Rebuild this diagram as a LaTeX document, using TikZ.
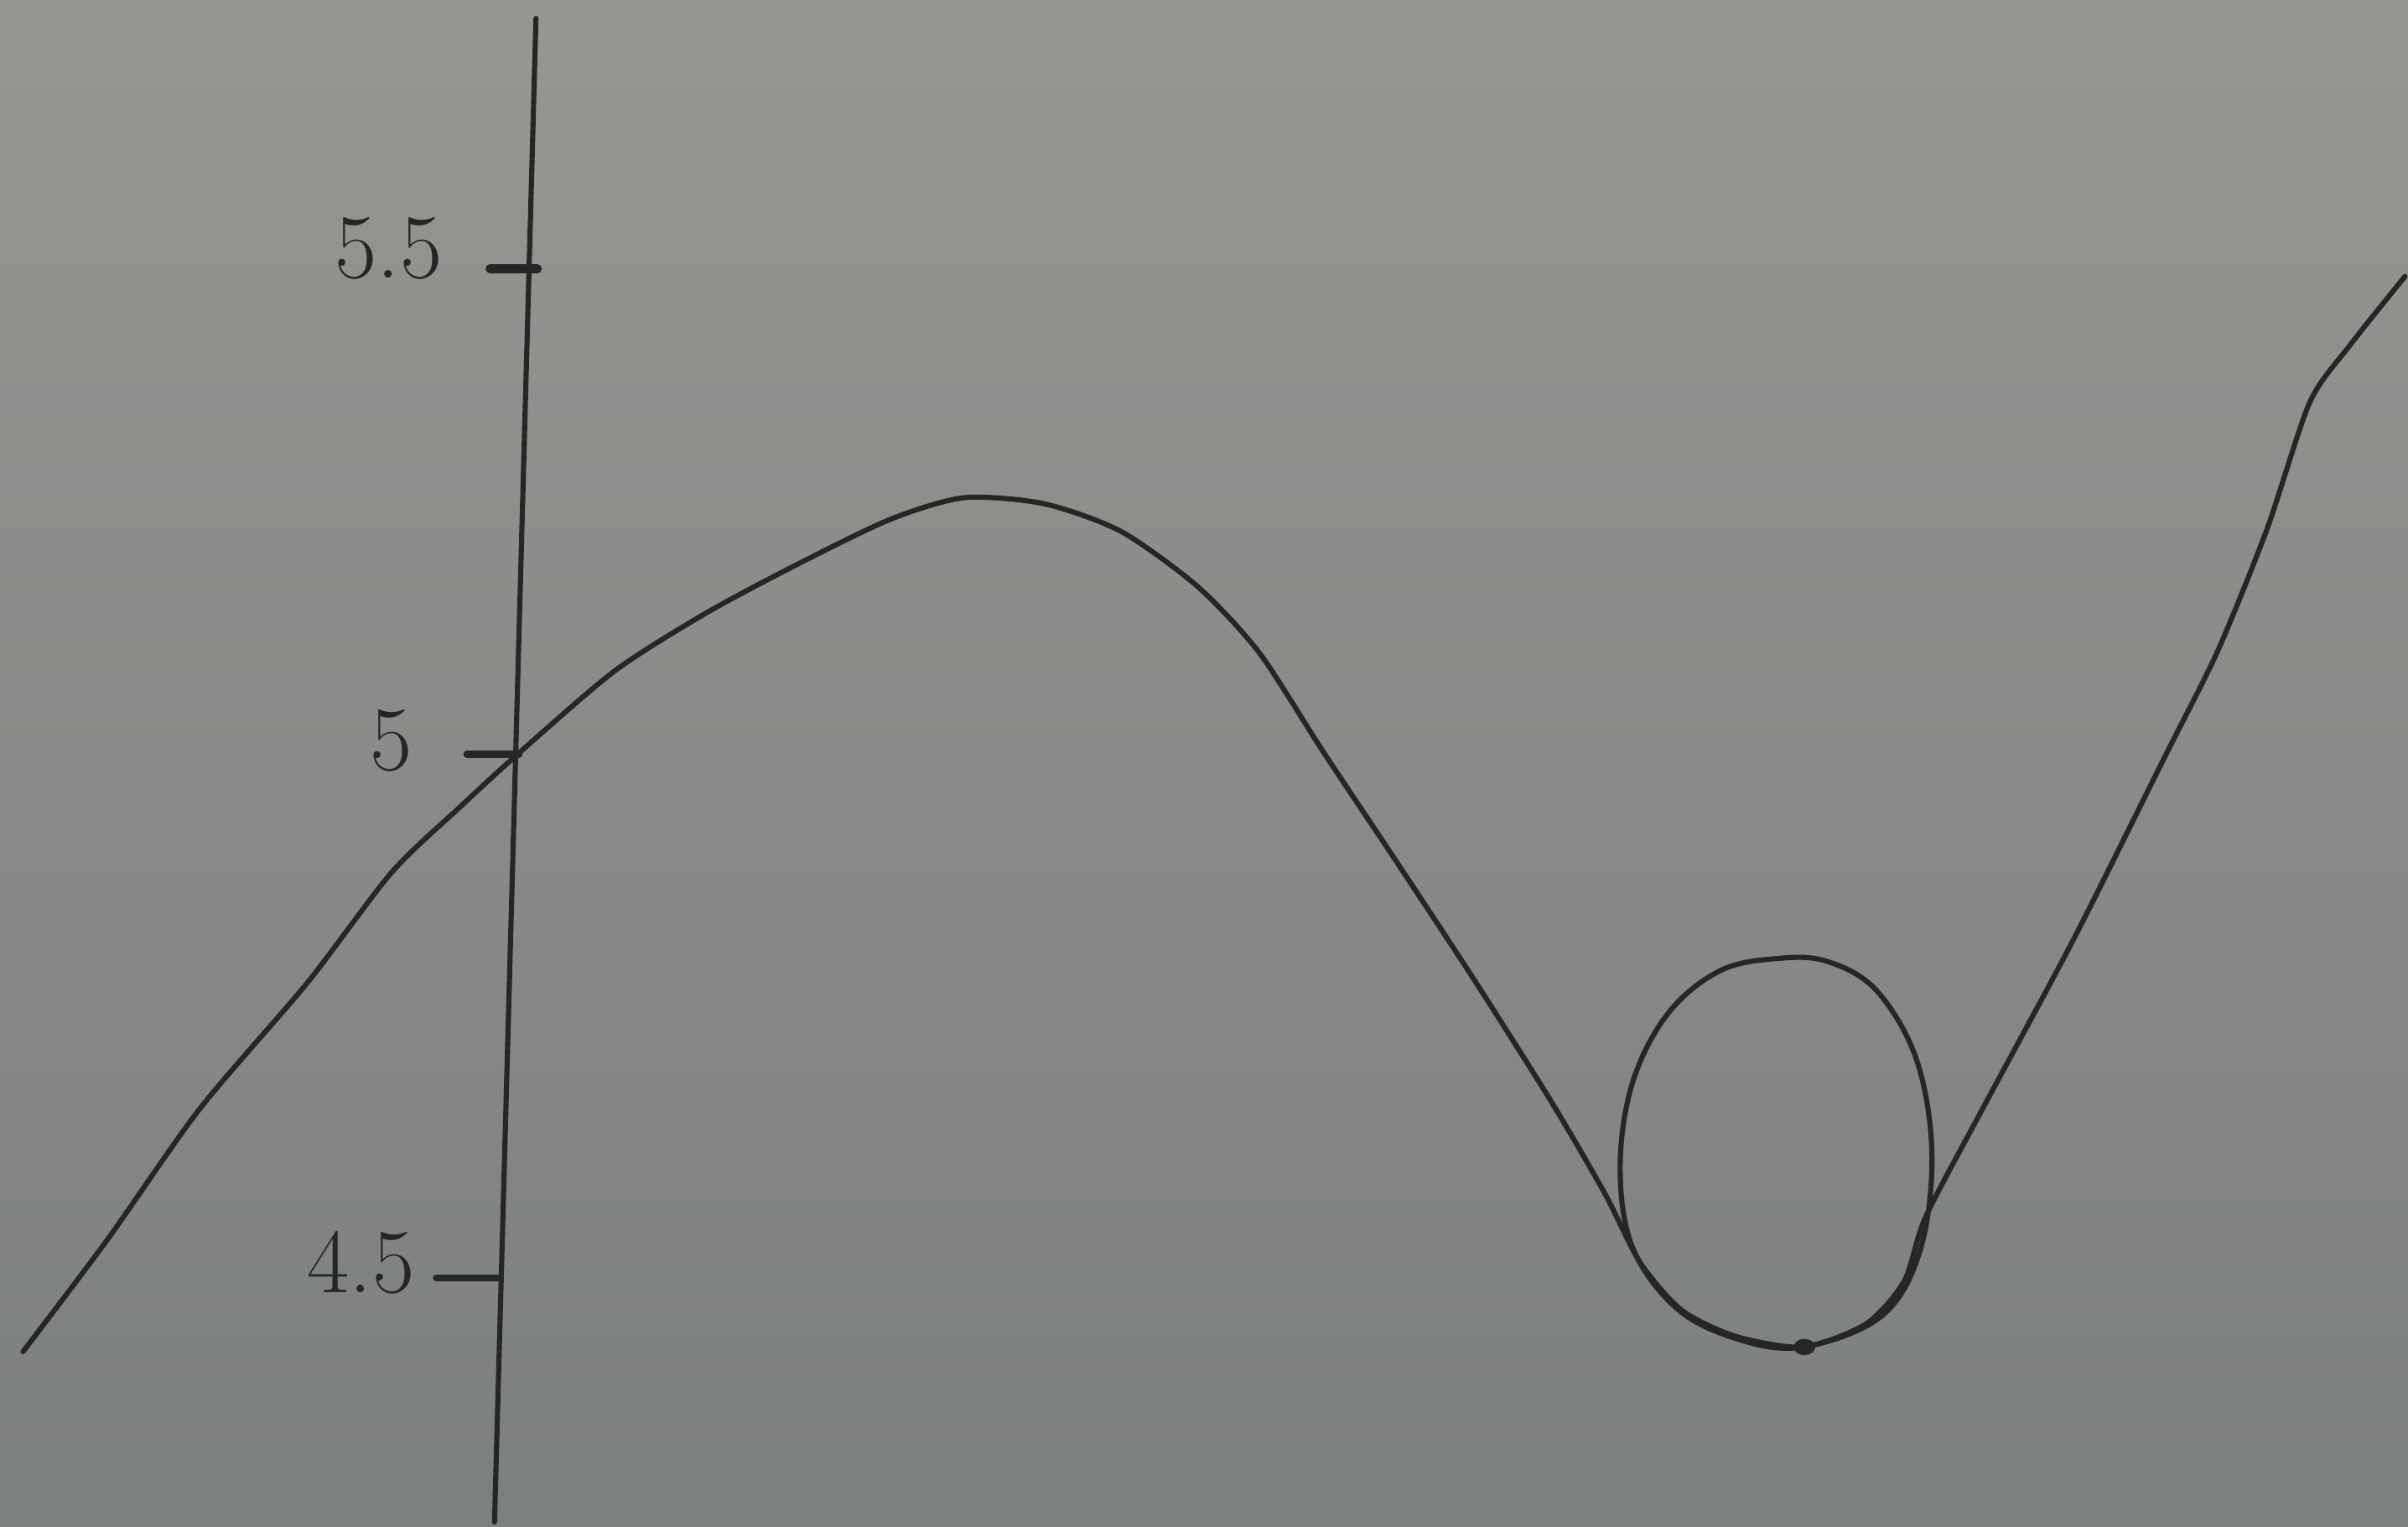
\documentclass[tikz,border=0pt]{standalone}
\usetikzlibrary{shapes.geometric}
\begin{document}
\begin{tikzpicture}[x=0.1mm,y=-0.1mm,
  ink/.style={draw=inkc,line width=0.95pt,line cap=round,line join=round},
  ticklab/.style={text=inkc,font=\fontsize{17}{17}\selectfont,inner sep=0pt}]
\definecolor{inkc}{RGB}{38,38,38}
\definecolor{papertop}{RGB}{150,150,146}
\definecolor{paperbot}{RGB}{124,128,126}
% paper
\shade[top color=papertop,bottom color=paperbot] (0,0) rectangle (1568,994);
\useasboundingbox (0,0) rectangle (1568,994);
% axis
\coordinate (axtop) at (349,12);
\coordinate (axbot) at (322,991);
\draw[ink] (axtop) -- (axbot);
% ticks
\coordinate (t55a) at (319,175); \coordinate (t55b) at (350,175);
\coordinate (t5a) at (304,491);  \coordinate (t5b) at (338,491);
\coordinate (t45a) at (284,832); \coordinate (t45b) at (326,832);
\draw[ink,line width=1.6pt] (t55a) -- (t55b);
\draw[ink,line width=1.3pt] (t5a) -- (t5b);
\draw[ink,line width=1.2pt] (t45a) -- (t45b);
% labels
\node[ticklab] (l55) at (253,162) {5.5};
\node[ticklab] (l5) at (255,482) {5};
\node[ticklab] (l45) at (235,822) {4.5};
% track
\draw[ink] plot[smooth,tension=0.45] coordinates {
 (15,880) (70,807) (130,722) (200,640) (255,568) (300,525) (336,492)
 (400,437) (460,399) (520,367) (580,338) (628,324) (680,328) (730,346)
 (780,382) (820,425) (862,490) (910,562) (960,638) (1010,717) (1045,777)
 (1068,822) (1095,853) (1130,870) (1174,877) (1215,862) (1240,834) (1254,792)
 (1292,720) (1350,612) (1410,492) (1444,424) (1476,345) (1504,262)
 (1530,225) (1566,180)};
% loop
\draw[ink] plot[smooth cycle,tension=0.6] coordinates {
 (1174,877) (1225,857) (1250,815) (1258,752) (1248,690) (1222,645)
 (1190,626) (1158,624) (1120,632) (1086,660) (1063,705) (1055,760)
 (1063,812) (1092,852) (1132,872)};
% dot
\node[ellipse,fill=inkc,inner sep=0pt,minimum width=4pt,minimum height=3pt] (dot) at (1175,877) {};
\end{tikzpicture}
\end{document}
